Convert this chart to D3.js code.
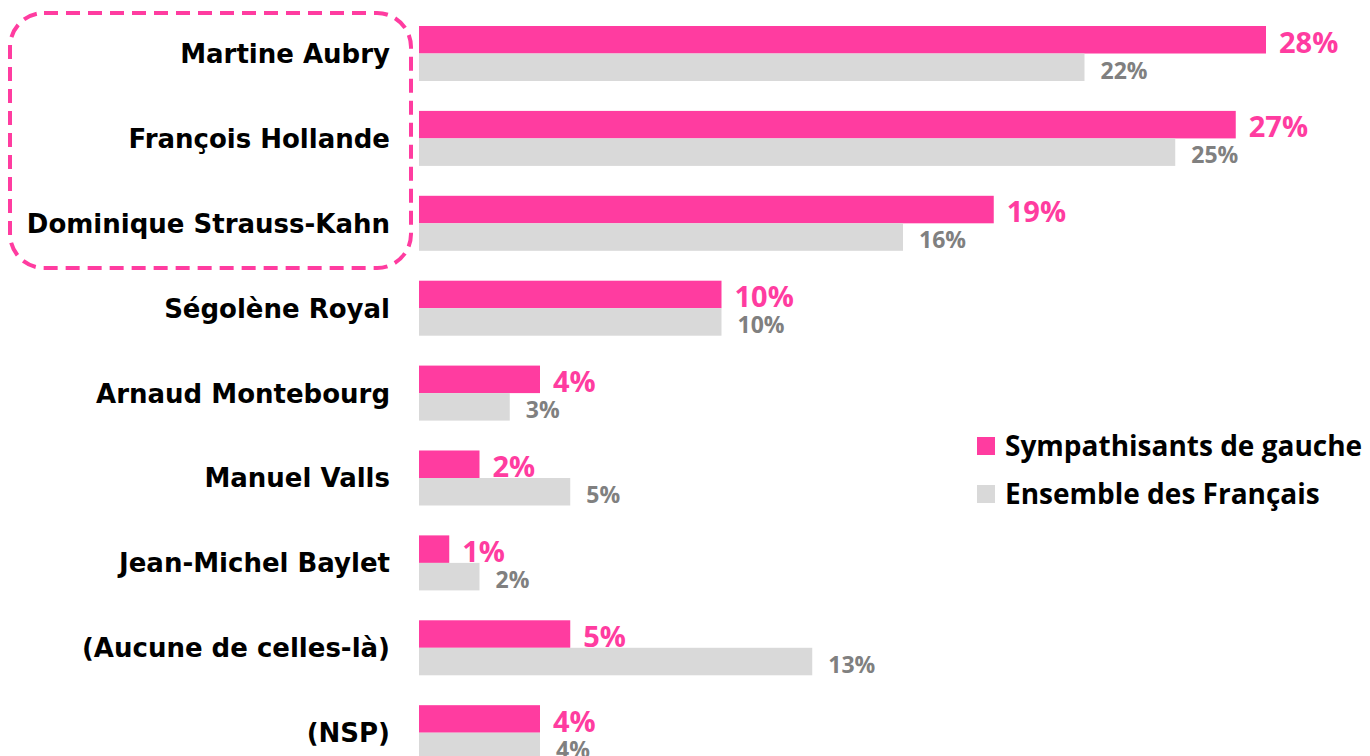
<!DOCTYPE html>
<html><head><meta charset="utf-8">
<script src="https://cdn.jsdelivr.net/npm/d3@7"></script>
<style>html,body{margin:0;padding:0;background:#fff;}svg{display:block;}</style>
</head><body>
<svg id="chart" width="1370" height="756"></svg>
<script>
const categories = ["Martine Aubry","François Hollande","Dominique Strauss-Kahn","Ségolène Royal","Arnaud Montebourg","Manuel Valls","Jean-Michel Baylet","(Aucune de celles-là)","(NSP)"];
const gauche = [28,27,19,10,4,2,1,5,4];
const ensemble = [22,25,16,10,3,5,2,13,4];
const seriesNames = ["Sympathisants de gauche","Ensemble des Français"];
const colors = ["#ff3ca0","#d9d9d9"];

const svg = d3.select("#chart");
const x = d3.scaleLinear().domain([0, 28]).range([419, 419 + 28*30.25]);
const y = d3.scaleBand().domain(categories).range([26, 26 + 8*84.9 + 55]).paddingInner(0.352).paddingOuter(0);
const sub = d3.scaleBand().domain([0,1]).range([0, y.bandwidth()]).padding(0);

const rows = categories.map((c,i)=>({c, g:gauche[i], e:ensemble[i]}));

// dashed highlight box
svg.append("rect").attr("x",10).attr("y",13).attr("width",401).attr("height",255)
  .attr("rx",34).attr("ry",34).attr("fill","none").attr("stroke","#ff3ca0")
  .attr("stroke-width",4).attr("stroke-dasharray","14,8");

const valFont = "'Open Sans', Lato, sans-serif";
const g = svg.append("g");
rows.forEach(r=>{
  const y0 = y(r.c);
  g.append("rect").attr("x",x(0)).attr("y",y0+sub(0)).attr("width",x(r.g)-x(0)).attr("height",sub.bandwidth()).attr("fill",colors[0]);
  g.append("rect").attr("x",x(0)).attr("y",y0+sub(1)).attr("width",x(r.e)-x(0)).attr("height",sub.bandwidth()).attr("fill",colors[1]);
  g.append("text").attr("x",x(r.g)+13).attr("y",y0+26.5).text(r.g+"%")
    .attr("font-family",valFont).attr("font-weight",700).attr("font-size",29).attr("fill",colors[0]);
  g.append("text").attr("x",x(r.e)+16).attr("y",y0+52.5).text(r.e+"%")
    .attr("font-family",valFont).attr("font-weight",700).attr("font-size",23).attr("fill","#808080");
  g.append("text").attr("x",390).attr("y",y0+37).attr("text-anchor","end").text(r.c)
    .attr("font-family","'DejaVu Sans',sans-serif").attr("font-weight",700).attr("font-size",26).attr("fill","#000");
});

// legend
const leg = svg.append("g");
const legY = [437, 485];
seriesNames.forEach((n,i)=>{
  leg.append("rect").attr("x",977).attr("y",legY[i]).attr("width",18).attr("height",18).attr("fill",colors[i]);
  leg.append("text").attr("x",1005).attr("y",legY[i]+19).text(n)
    .attr("font-family",valFont).attr("font-weight",700).attr("font-size",28).attr("fill","#000");
});
</script>
</body></html>
